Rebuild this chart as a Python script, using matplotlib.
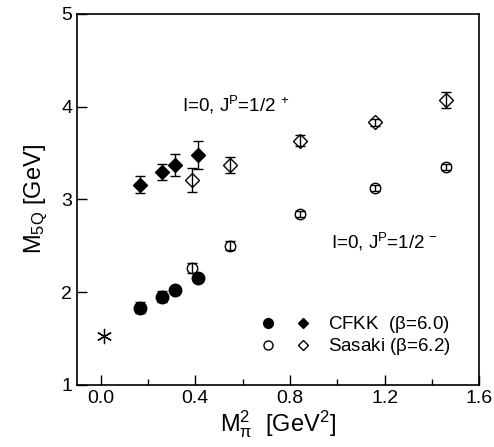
import matplotlib
matplotlib.use('Agg')
import matplotlib.pyplot as plt
from matplotlib.lines import Line2D
from matplotlib.legend_handler import HandlerTuple

plt.rcParams['font.family'] = ['Liberation Sans', 'DejaVu Sans']
plt.rcParams['mathtext.fontset'] = 'custom'
plt.rcParams['mathtext.rm'] = 'Liberation Sans'
plt.rcParams['mathtext.it'] = 'Liberation Sans:italic'

# CFKK (beta=6.0)
cfkk_x = [0.166, 0.260, 0.315, 0.411]
cfkk_neg = [1.83, 1.95, 2.02, 2.15]
cfkk_neg_err = [0.06, 0.06, 0.02, 0.02]
cfkk_pos = [3.16, 3.30, 3.37, 3.48]
cfkk_pos_err = [0.09, 0.086, 0.12, 0.15]

# Sasaki (beta=6.2)
sas_x = [0.386, 0.545, 0.843, 1.159, 1.459]
sas_neg = [2.26, 2.50, 2.84, 3.12, 3.35]
sas_neg_err = [0.057, 0.05, 0.03, 0.03, 0.03]
sas_pos = [3.21, 3.37, 3.63, 3.83, 4.07]
sas_pos_err = [0.13, 0.09, 0.06, 0.04, 0.09]

# experimental point
exp_x = [0.014]
exp_y = [1.53]

fig = plt.figure(figsize=(4.94, 4.47), dpi=100)
ax = fig.add_axes([0.156, 0.139, 0.814, 0.830])

eb = dict(color='black', ecolor='black', elinewidth=1.0, capsize=3.5, capthick=1.0, linestyle='none')

ax.errorbar(cfkk_x, cfkk_neg, yerr=cfkk_neg_err, marker='o', ms=9, mfc='black', mec='black', **eb)
ax.errorbar(cfkk_x, cfkk_pos, yerr=cfkk_pos_err, marker='D', ms=7, mfc='black', mec='black', **eb)
ax.errorbar(sas_x, sas_neg, yerr=sas_neg_err, marker='o', ms=7.5, mfc='none', mec='black', mew=1.0, **eb)
ax.errorbar(sas_x, sas_pos, yerr=sas_pos_err, marker='D', ms=7, mfc='none', mec='black', mew=1.0, **eb)
ax.plot(exp_x, exp_y, linestyle='none', marker=(6, 2, 0), ms=11, color='black', mew=0.9)

ax.text(0.345, 4.02, r'I=0, J$^\mathregular{P}$=1/2$^\mathregular{\ +}$', fontsize=13.5, ha='left', va='center')
ax.text(0.974, 2.54, r'I=0, J$^\mathregular{P}$=1/2$^\mathregular{\,-}$', fontsize=13.5, ha='left', va='center')

# legend with two markers per row
h1 = (Line2D([], [], ls='none', marker='o', ms=7, mfc='black', mec='black'),
      Line2D([], [], ls='none', marker='D', ms=5.5, mfc='black', mec='black'))
h2 = (Line2D([], [], ls='none', marker='o', ms=6.5, mfc='white', mec='black'),
      Line2D([], [], ls='none', marker='D', ms=5.5, mfc='white', mec='black'))
ax.legend([h1, h2], [r'CFKK  ($\mathregular{\beta}$=6.0)', r'Sasaki ($\mathregular{\beta}$=6.2)'],
          handler_map={tuple: HandlerTuple(ndivide=None, pad=0.78)},
          handlelength=3, handletextpad=0.75, labelspacing=0.05, fontsize=13.5,
          frameon=False, borderpad=0, borderaxespad=0,
          loc='upper left', bbox_to_anchor=(0.448, 0.19))

ax.set_xlim(-0.1, 1.6)
ax.set_ylim(1, 5)
ax.set_xticks([0.0, 0.4, 0.8, 1.2, 1.6])
ax.set_xticklabels(['0.0', '0.4', '0.8', '1.2', '1.6'])
ax.set_xticks([0.2, 0.6, 1.0, 1.4], minor=True)
ax.set_yticks([1, 2, 3, 4, 5])
ax.tick_params(axis='both', which='major', direction='in', length=7, width=1, labelsize=14)
ax.tick_params(axis='both', which='minor', direction='in', length=4, width=1)
for s in ax.spines.values():
    s.set_linewidth(1.2)

ax.set_xlabel(r'M$_\mathregular{\pi}^\mathregular{2}$  [GeV$^\mathregular{2}$]', fontsize=17, labelpad=1)
ax.set_ylabel(r'M$_\mathregular{5Q}$ [GeV]', fontsize=17, labelpad=8)

fig.savefig('out.png', dpi=100)
